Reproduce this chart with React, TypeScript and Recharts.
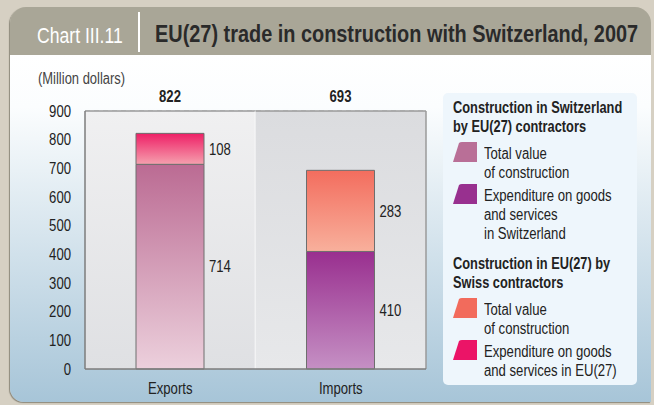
import { BarChart, Bar, XAxis, YAxis, CartesianGrid, Cell, LabelList, ReferenceArea } from 'recharts'

// ─── Data ─────────────────────────────────────────────────────────────────────

const categories = ['Exports', 'Imports']
const totalValue = [714, 410]
const topValue = [108, 283]
const yTicks = [0, 100, 200, 300, 400, 500, 600, 700, 800, 900]

const baseFills = ['url(#gExpBase)', 'url(#gImpBase)']
const topFills = ['url(#gExpTop)', 'url(#gImpTop)']

const legendGroups = [
  {
    title: ['Construction in Switzerland', 'by EU(27) contractors'],
    items: [
      { color: '#b96f97', lines: ['Total value', 'of construction'] },
      { color: '#98308f', lines: ['Expenditure on goods', 'and services', 'in Switzerland'] },
    ],
  },
  {
    title: ['Construction in EU(27) by', 'Swiss contractors'],
    items: [
      { color: '#f26b5c', lines: ['Total value', 'of construction'] },
      { color: '#eb1467', lines: ['Expenditure on goods', 'and services in EU(27)'] },
    ],
  },
]

const data = categories.map((c, i) => ({
  name: c,
  base: totalValue[i],
  top: topValue[i],
  total: totalValue[i] + topValue[i],
}))

// ─── Styles ───────────────────────────────────────────────────────────────────

// no narrow font installed, so condense a regular one
const FONT = "'Liberation Sans', Arial, sans-serif"
const SX = 0.82
const MARGIN_TOP = 111

function CondSvgText(props: any) {
  const { x, y, anchor = 'start', dy = '0.36em', bold = false, children } = props
  return (
    <text
      transform={`translate(${x},${y}) scale(${SX},1)`}
      x={0}
      y={0}
      dy={dy}
      textAnchor={anchor}
      fontSize={16}
      fontWeight={bold ? 'bold' : 'normal'}
      fontFamily={FONT}
      fill="#222"
    >
      {children}
    </text>
  )
}

function Cond({ children, sx = SX }: { children: any; sx?: number }) {
  return (
    <span style={{ display: 'inline-block', transform: `scaleX(${sx})`, transformOrigin: 'left', whiteSpace: 'nowrap' }}>
      {children}
    </span>
  )
}

function YTick(props: any) {
  const { x, y, payload } = props
  return <CondSvgText x={x} y={y} anchor="end">{payload.value}</CondSvgText>
}

function XTick(props: any) {
  const { x, y, payload } = props
  return <CondSvgText x={x} y={y} anchor="middle" dy="0.71em">{payload.value}</CondSvgText>
}

function SegmentLabel(props: any) {
  const { x, y, width, height, value } = props
  return <CondSvgText x={x + width + 5} y={y + height / 2}>{value}</CondSvgText>
}

function TotalLabel(props: any) {
  const { x, width, index } = props
  return (
    <CondSvgText x={x + width / 2} y={MARGIN_TOP - 9} anchor="middle" dy={0} bold>
      {data[index].total}
    </CondSvgText>
  )
}

function PlotHalf(props: any) {
  const { x, y, width, height, idx } = props
  return (
    <g>
      <rect x={x} y={y} width={width} height={height} fill={idx === 0 ? 'url(#gBgLeft)' : 'url(#gBgRight)'} />
      <line x1={x} x2={x + width} y1={y} y2={y} stroke="#9a9a9a" strokeWidth={1.5} />
      <line
        x1={x + width}
        x2={x + width}
        y1={y}
        y2={y + height}
        stroke={idx === 0 ? '#ffffff' : '#9a9a9a'}
        strokeWidth={1.5}
      />
    </g>
  )
}

function Swatch({ color }: { color: string }) {
  return (
    <svg width={25} height={21} style={{ position: 'absolute', left: 0, top: -2 }}>
      <path d="M6 1 Q7 0 9 0 L24 0 L24 20 L0 20 Z" fill={color} />
    </svg>
  )
}

function Legend() {
  return (
    <div
      style={{
        position: 'absolute',
        left: 443,
        top: 93,
        width: 194,
        height: 292,
        background: '#eef6fc',
        borderRadius: 5,
        fontFamily: FONT,
        fontSize: 16,
        lineHeight: '19px',
        color: '#222',
        padding: '5px 0 0 10px',
        boxSizing: 'border-box',
      }}
    >
      {legendGroups.map((g, gi) => (
        <div key={gi} style={{ marginTop: gi === 0 ? 0 : 11 }}>
          <div style={{ fontWeight: 'bold' }}>
            {g.title.map((t) => (
              <div key={t}>
                <Cond sx={0.8}>{t}</Cond>
              </div>
            ))}
          </div>
          {g.items.map((it, ii) => (
            <div key={ii} style={{ position: 'relative', paddingLeft: 31, marginTop: ii === 0 ? 8 : 4 }}>
              <Swatch color={it.color} />
              {it.lines.map((l) => (
                <div key={l}>
                  <Cond>{l}</Cond>
                </div>
              ))}
            </div>
          ))}
        </div>
      ))}
    </div>
  )
}

export default function App() {
  return (
    <div
      style={{
        position: 'absolute',
        left: 0,
        top: 0,
        width: 654,
        height: 405,
        background: '#d6d0c3',
        overflow: 'hidden',
        fontFamily: FONT,
      }}
    >
      <div
        style={{
          position: 'absolute',
          left: 10,
          top: 7,
          width: 641,
          height: 395,
          borderRadius: '16px 16px 0 14px',
          overflow: 'hidden',
          boxShadow: '-1px 1px 1px #8e8a7d',
          background: 'linear-gradient(to bottom, #a9a697 0px, #a9a697 48px, #ffffff 48px, #fbfdfe 100px, #a7c5d8 100%)',
        }}
      />
      <div style={{ position: 'absolute', left: 37, top: 23, fontSize: 22, color: '#ffffff' }}>
        <Cond sx={0.8}>Chart III.11</Cond>
      </div>
      <div style={{ position: 'absolute', left: 138, top: 12, width: 1.5, height: 40, background: '#ffffff' }} />
      <div style={{ position: 'absolute', left: 155, top: 21, fontSize: 23, fontWeight: 'bold', color: '#2a2a2a' }}>
        <Cond sx={0.865}>EU(27) trade in construction with Switzerland, 2007</Cond>
      </div>
      <div style={{ position: 'absolute', left: 38, top: 70, fontSize: 16, color: '#444' }}>
        <Cond sx={0.81}>(Million dollars)</Cond>
      </div>

      <div style={{ position: 'absolute', left: 0, top: 0 }}>
        <BarChart
          width={440}
          height={405}
          data={data}
          margin={{ top: MARGIN_TOP, right: 14, left: 45, bottom: 6 }}
          barSize={68}
        >
          <defs>
            <linearGradient id="gBgLeft" x1="0" y1="0" x2="0" y2="1">
              <stop offset="0%" stopColor="#f0f0f1" />
              <stop offset="100%" stopColor="#dfe0e3" />
            </linearGradient>
            <linearGradient id="gBgRight" x1="0" y1="0" x2="0" y2="1">
              <stop offset="0%" stopColor="#dbdcdf" />
              <stop offset="100%" stopColor="#e7e8ea" />
            </linearGradient>
            <linearGradient id="gExpBase" x1="0" y1="0" x2="0" y2="1">
              <stop offset="0%" stopColor="#bb6b93" />
              <stop offset="100%" stopColor="#ecd0dc" />
            </linearGradient>
            <linearGradient id="gExpTop" x1="0" y1="0" x2="0" y2="1">
              <stop offset="0%" stopColor="#ee1f66" />
              <stop offset="100%" stopColor="#f5a0ae" />
            </linearGradient>
            <linearGradient id="gImpBase" x1="0" y1="0" x2="0" y2="1">
              <stop offset="0%" stopColor="#992f8f" />
              <stop offset="100%" stopColor="#c590c4" />
            </linearGradient>
            <linearGradient id="gImpTop" x1="0" y1="0" x2="0" y2="1">
              <stop offset="0%" stopColor="#f36d5e" />
              <stop offset="100%" stopColor="#f8b09c" />
            </linearGradient>
          </defs>
          {categories.map((c, i) => (
            <ReferenceArea key={c} x1={c} x2={c} y1={0} y2={900} shape={(p: any) => <PlotHalf {...p} idx={i} />} />
          ))}
          <CartesianGrid vertical={false} stroke="#bcbcbc" strokeDasharray="5 4" />
          <XAxis
            dataKey="name"
            tickLine={false}
            axisLine={{ stroke: '#7d7d7d', strokeWidth: 1.5 }}
            tick={<XTick />}
            tickMargin={8}
            height={30}
          />
          <YAxis
            domain={[0, 900]}
            ticks={yTicks}
            tickLine={false}
            axisLine={{ stroke: '#7d7d7d', strokeWidth: 1.5 }}
            tick={<YTick />}
            tickMargin={8}
            width={40}
            interval={0}
          />
          <Bar dataKey="base" stackId="a" stroke="#6e6e6e" strokeWidth={1} isAnimationActive={false}>
            {data.map((d, i) => (
              <Cell key={d.name} fill={baseFills[i]} />
            ))}
            <LabelList dataKey="base" content={SegmentLabel} />
          </Bar>
          <Bar dataKey="top" stackId="a" stroke="#6e6e6e" strokeWidth={1} isAnimationActive={false}>
            {data.map((d, i) => (
              <Cell key={d.name} fill={topFills[i]} />
            ))}
            <LabelList dataKey="top" content={SegmentLabel} />
            <LabelList dataKey="total" content={TotalLabel} />
          </Bar>
        </BarChart>
      </div>

      <Legend />
    </div>
  )
}
